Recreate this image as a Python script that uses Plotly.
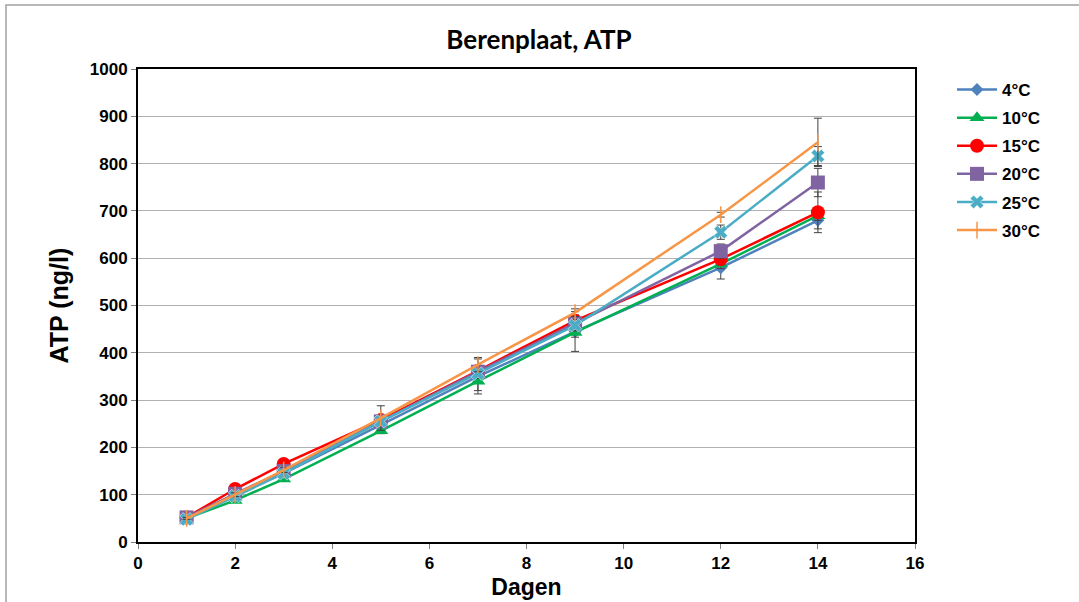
import plotly.graph_objects as go

days = [1, 2, 3, 5, 7, 9, 12, 14]
series_names = ["4°C", "10°C", "15°C", "20°C", "25°C", "30°C"]
atp_4 = [52, 100, 145, 248, 350, 445, 580, 680]
atp_10 = [50, 88, 133, 235, 340, 443, 588, 690]
atp_15 = [52, 112, 165, 258, 362, 468, 598, 697]
atp_20 = [52, 102, 150, 255, 360, 462, 615, 760]
atp_25 = [48, 97, 145, 255, 356, 458, 655, 816]
atp_30 = [50, 100, 152, 262, 375, 485, 692, 845]
err_4 = [3, 5, 6, 10, 37, 42, 24, 18]
err_10 = [2, 4, 5, 6, 20, 10, 10, 10]
err_15 = [2, 4, 5, 6, 10, 12, 12, 43]
err_20 = [2, 4, 5, 6, 10, 12, 15, 30]
err_25 = [2, 4, 5, 6, 10, 12, 15, 20]
err_30 = [2, 4, 5, 26, 15, 8, 5, 51]

values = [atp_4, atp_10, atp_15, atp_20, atp_25, atp_30]
errors = [err_4, err_10, err_15, err_20, err_25, err_30]
colors = ["#4F81BD", "#00B050", "#FF0000", "#8064A2", "#4BACC6", "#F79646"]
symbols = ["diamond", "triangle-up", "circle", "square", "x", "line-ns"]
sizes = [10, 13, 14, 14, 12, 12]

fig = go.Figure()
for i, name in enumerate(series_names):
    marker = dict(symbol=symbols[i], size=sizes[i], color=colors[i])
    if symbols[i] == "line-ns":
        marker["line"] = dict(color=colors[i], width=1.5)
    elif symbols[i] == "x":
        marker["line"] = dict(color="white", width=0.5)
    fig.add_trace(go.Scatter(
        x=days, y=values[i], name=name, mode="lines+markers",
        line=dict(color=colors[i], width=2.5),
        marker=marker,
        legendgroup=name,
        error_y=dict(type="data", array=errors[i], color="#404040",
                     thickness=1, width=4),
    ))

frame_x0 = (6 - 138) / 777
frame_y1 = (542 - 5) / 473

fig.update_layout(
    width=1079, height=602,
    margin=dict(l=138, r=164, t=69, b=60),
    paper_bgcolor="white", plot_bgcolor="white",
    font=dict(family="Liberation Sans, Arial", color="black"),
    title=dict(text="<b>Berenplaat, ATP</b>", x=539 / 1079, xanchor="center",
               y=1 - 40 / 602, yanchor="middle",
               font=dict(family="Lato, Open Sans", size=26, color="black")),
    xaxis=dict(range=[0, 16], dtick=2, showgrid=False, zeroline=False,
               automargin=False,
               showline=True, linecolor="black", linewidth=2, mirror=True,
               ticks="outside", ticklen=5, tickcolor="#808080",
               tickfont=dict(size=17, family="Liberation Sans", weight="bold"),
               title=dict(text="<b>Dagen</b>", standoff=6,
                          font=dict(size=23, family="Liberation Sans"))),
    yaxis=dict(range=[0, 1000], dtick=100, showgrid=True, gridcolor="#b0b0b0",
               gridwidth=1, zeroline=False, automargin=False,
               showline=True, linecolor="black", linewidth=2, mirror=True,
               ticks="outside", ticklen=5, tickcolor="#808080",
               tickfont=dict(size=17, family="Liberation Sans", weight="bold"),
               title=dict(text="<b>ATP (ng/l)</b>", standoff=14,
                          font=dict(size=25, family="Liberation Sans"))),
    legend=dict(x=(952 - 138) / 777, xanchor="left",
                y=(542 - 72) / 473, yanchor="top",
                bgcolor="rgba(0,0,0,0)", tracegroupgap=3,
                font=dict(size=17, family="Liberation Sans", weight="bold"),
                itemwidth=40),
    shapes=[dict(type="rect", xref="paper", yref="paper",
                 x0=frame_x0, x1=1.4, y0=-0.3, y1=frame_y1,
                 line=dict(color="#a0a0a0", width=1.5), layer="below")],
    showlegend=True,
)

fig.write_html("out.html")
